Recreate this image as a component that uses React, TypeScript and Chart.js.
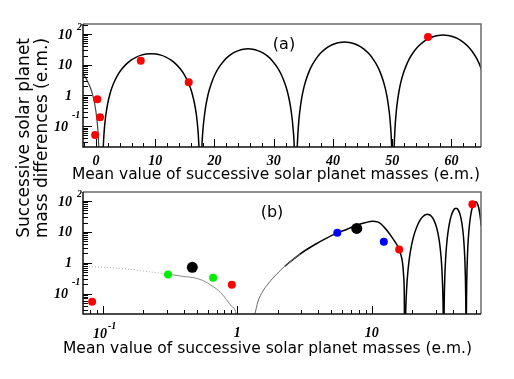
import React, { useEffect, useRef } from "react";
import { Chart, registerables } from "chart.js";
Chart.register(...registerables);

const W = 514;
const H = 379;

// ---------- panel (a): linear x ----------
const aLeftX = [-2.2, -1.8, -1.4, -1.0, -0.6, -0.2, 0.1, 0.3, 0.45, 0.55, 0.6];
const aLeftY = [5.3, 3.9, 2.8, 1.9, 1.1, 0.5, 0.2, 0.08, 0.025, 0.006, 0.001];

const aCurveX = [
  1.0, 1.166, 1.332, 1.498, 1.664, 1.996, 2.328, 2.66, 3.158, 3.656, 4.32, 5.15, 5.98, 6.81, 7.64, 8.47, 9.3,
  10.13, 10.96, 11.79, 12.62, 13.45, 14.28, 14.94, 15.44, 15.94, 16.27, 16.6, 16.94, 17.1, 17.27, 17.43, 17.6,
  17.76, 17.92, 18.08, 18.25, 18.57, 18.89, 19.22, 19.7, 20.18, 20.83, 21.64, 22.45, 23.25, 24.06, 24.87, 25.68,
  26.48, 27.29, 28.1, 28.91, 29.71, 30.52, 31.17, 31.65, 32.14, 32.46, 32.78, 33.1, 33.26, 33.43, 33.59, 33.75,
  33.91, 34.08, 34.24, 34.41, 34.73, 35.06, 35.39, 35.88, 36.37, 37.03, 37.85, 38.67, 39.49, 40.31, 41.13, 41.95,
  42.77, 43.59, 44.41, 45.23, 46.05, 46.87, 47.53, 48.02, 48.51, 48.84, 49.17, 49.49, 49.66, 49.82, 49.99, 50.15,
  50.32, 50.49, 50.66, 50.83, 51.16, 51.5, 51.84, 52.35, 52.85, 53.53, 54.38, 55.22, 56.07, 56.91, 57.76, 58.6,
  59.45, 60.29, 61.14, 61.98, 62.83, 63.67, 64.35, 64.85, 65.36,
];
const aCurveY = [
  0.0005, 0.0113, 0.052, 0.127, 0.24, 0.58, 1.08, 1.74, 3.01, 4.62, 7.13, 10.7, 14.4, 17.8, 20.6, 22.4, 23,
  22.4, 20.6, 17.8, 14.4, 10.7, 7.13, 4.62, 3.01, 1.74, 1.08, 0.58, 0.24, 0.127, 0.052, 0.0113, 0.0005,
  0.0057, 0.033, 0.089, 0.185, 0.5, 1.02, 1.75, 3.27, 5.31, 8.7, 13.9, 19.4, 24.8, 29.0, 32.0, 33,
  32.0, 29.0, 24.8, 19.4, 13.9, 8.7, 5.31, 3.27, 1.75, 1.02, 0.5, 0.185, 0.089, 0.033, 0.0057, 0.0005,
  0.0096, 0.055, 0.149, 0.308, 0.83, 1.71, 2.92, 5.45, 8.86, 14.5, 23.1, 32.4, 41.3, 48.4, 53.3, 55,
  53.3, 48.4, 41.3, 32.4, 23.1, 14.5, 8.86, 5.45, 2.92, 1.71, 0.83, 0.308, 0.149, 0.055, 0.0096, 0.0005,
  0.0162, 0.093, 0.251, 0.52, 1.4, 2.88, 4.93, 9.2, 15.0, 24.6, 39.1, 54.8, 69.8, 81.8, 90.1, 93,
  90.1, 81.8, 69.8, 54.8, 39.1, 24.6, 15.0, 9.2, 4.93,
];

const aRedX = [-0.15, 0.22, 0.68, 7.55, 15.65, 56.05];
const aRedY = [0.052, 0.75, 0.195, 13.6, 2.7, 80];

// ---------- panel (b): logarithmic x ----------
const bDotX = [0.071, 0.1, 0.15, 0.2, 0.3];
const bDotY = [0.75, 0.72, 0.63, 0.54, 0.43];

const bGreyX = [0.3, 0.4, 0.47, 0.55, 0.66, 0.75, 0.83, 0.9, 0.98, 1.02];
const bGreyY = [0.43, 0.36, 0.33, 0.27, 0.17, 0.11, 0.064, 0.04, 0.022, 0.004];

// faint start of the rising branch
const bRiseX = [1.31, 1.35, 1.42, 1.55, 1.69, 1.84, 2.26, 2.92];
const bRiseY = [0.014, 0.022, 0.054, 0.122, 0.206, 0.32, 0.78, 1.91];

const bCurveX = [
  2.26, 2.92, 3.78, 4.65, 5.54, 6.55, 7.73, 8.9, 10.2, 11.0, 11.5, 12.3,
  13.2, 14.2, 15.2, 16.0, 16.5, 16.96, 17.25, 17.46, 17.6,
  17.77, 17.93, 18.1, 18.27, 18.6, 18.94, 19.27, 19.77, 20.27, 20.94, 21.78, 22.61, 23.45, 24.28, 25.12, 25.95,
  26.79, 27.62, 28.46, 29.29, 30.13, 30.96, 31.63, 32.13, 32.63, 32.96, 33.3, 33.63, 33.8, 33.97, 34.13, 34.3,
  34.46, 34.62, 34.78, 34.94, 35.27, 35.59, 35.91, 36.39, 36.88, 37.52, 38.33, 39.13, 39.94, 40.74, 41.55, 42.35,
  43.16, 43.96, 44.77, 45.57, 46.38, 47.18, 47.82, 48.31, 48.79, 49.11, 49.43, 49.76, 49.92, 50.08, 50.24, 50.4,
  50.58, 50.75, 50.93, 51.1, 51.46, 51.81, 52.16, 52.69, 53.22, 53.92, 54.8, 55.68, 56.56, 57.44, 58.32, 59.2,
  60.08, 60.96, 61.84, 62.72, 63.6, 64.48, 65.18,
];
const bCurveY = [
  0.78, 1.91, 3.9, 6.4, 9.3, 12.2, 16.4, 19.8, 22.1, 21, 19.1, 14.5,
  10.1, 6.5, 4.16, 2.7, 1.77, 0.98, 0.4, 0.09, 0.0005,
  0.0064, 0.037, 0.1, 0.207, 0.56, 1.15, 1.96, 3.66, 5.96, 9.8, 15.5, 21.8, 27.8, 32.6, 35.9, 37,
  35.9, 32.6, 27.8, 21.8, 15.5, 9.8, 5.96, 3.66, 1.96, 1.15, 0.56, 0.207, 0.1, 0.037, 0.0064, 0.0005,
  0.0101, 0.058, 0.157, 0.325, 0.876, 1.8, 3.07, 5.74, 9.34, 15.3, 24.4, 34.2, 43.5, 51.0, 56.2, 58,
  56.2, 51.0, 43.5, 34.2, 24.4, 15.3, 9.34, 5.74, 3.07, 1.8, 0.876, 0.325, 0.157, 0.058, 0.0101, 0.0005,
  0.0165, 0.095, 0.257, 0.53, 1.43, 2.95, 5.04, 9.4, 15.3, 25.1, 39.9, 56.0, 71.3, 83.6, 92.1, 95,
  92.1, 83.6, 71.3, 56.0, 39.9, 25.1, 15.3,
];

const bRedX = [0.083, 0.91, 16.0, 56.1];
const bRedY = [0.055, 0.195, 2.7, 78];
const bGreenX = [0.305, 0.66];
const bGreenY = [0.42, 0.33];
const bBlackX = [0.462, 7.73];
const bBlackY = [0.71, 12.9];
const bBlueX = [5.54, 12.3];
const bBlueY = [9.3, 4.8];

// ---------- tick labels / texts ----------
const yTickValues = [100, 10, 1, 0.1];
const yTickBase = ["10", "10", "1", "10"];
const yTickExp = ["2", "", "", "-1"];

const aXTickValues = [0, 10, 20, 30, 40, 50, 60];
const aXTickLabels = ["0", "10", "20", "30", "40", "50", "60"];

const bXTickValues = [0.1, 1, 10];
const bXTickBase = ["10", "1", "10"];
const bXTickExp = ["-1", "", ""];

const xTitle = "Mean value of successive solar planet masses (e.m.)";
const yTitleLines = ["Successive solar planet", "mass differences (e.m.)"];
const panelLabels = ["(a)", "(b)"];

const TICK_FONT = 'italic bold 14px "Liberation Serif", serif';
const SUP_FONT = 'italic bold 10px "Liberation Serif", serif';
const TITLE_FONT = '16px "DejaVu Sans", sans-serif';
const YTITLE_FONT = '17px "DejaVu Sans", sans-serif';
const PANEL_FONT = '16px "DejaVu Sans", sans-serif';

function pts(xs: number[], ys: number[]) {
  return xs.map((x, i) => ({ x, y: ys[i] }));
}

function logTicks(min: number, max: number) {
  const out: { v: number; major: boolean }[] = [];
  for (let d = -3; d <= 3; d++) {
    for (let m = 1; m <= 9; m++) {
      const v = m * Math.pow(10, d);
      if (v < min * 0.9999 || v > max * 1.0001) continue;
      out.push({ v, major: m === 1 });
    }
  }
  return out;
}

function drawFrameAndTicks(chart: any, xTicks: { v: number; major: boolean }[]) {
  const ctx = chart.ctx;
  const a = chart.chartArea;
  const xs = chart.scales.x;
  const ys = chart.scales.y;
  ctx.save();
  ctx.strokeStyle = "#000";
  ctx.lineWidth = 1;
  ctx.beginPath();
  for (const t of logTicks(ys.min, ys.max)) {
    const py = Math.round(ys.getPixelForValue(t.v)) + 0.5;
    ctx.moveTo(a.left, py);
    ctx.lineTo(a.left + (t.major ? 9 : 5), py);
  }
  for (const t of xTicks) {
    const px = Math.round(xs.getPixelForValue(t.v)) + 0.5;
    ctx.moveTo(px, a.bottom);
    ctx.lineTo(px, a.bottom - (t.major ? 8 : 4));
  }
  ctx.stroke();
  ctx.lineWidth = 1.5;
  ctx.strokeStyle = "#6a6a6a";
  ctx.beginPath();
  ctx.moveTo(a.left, a.top);
  ctx.lineTo(a.right, a.top);
  ctx.lineTo(a.right, a.bottom);
  ctx.stroke();
  ctx.strokeStyle = "#111";
  ctx.beginPath();
  ctx.moveTo(a.left, a.top);
  ctx.lineTo(a.left, a.bottom);
  ctx.lineTo(a.right, a.bottom);
  ctx.stroke();

  ctx.fillStyle = "#000";
  yTickValues.forEach((v, i) => {
    const py = ys.getPixelForValue(v);
    const base = yTickBase[i];
    const exp = yTickExp[i];
    ctx.font = TICK_FONT;
    ctx.textBaseline = "middle";
    ctx.textAlign = "right";
    if (exp === "-1") {
      ctx.fillText(base, a.left - 15, py + 1);
      ctx.font = SUP_FONT;
      ctx.textAlign = "left";
      ctx.fillText(exp, a.left - 11, py - 11);
    } else {
      ctx.fillText(base, a.left - 11, py + 1);
      if (exp) {
        ctx.font = SUP_FONT;
        ctx.textAlign = "left";
        ctx.fillText(exp, a.left - 6, py - 7);
      }
    }
  });
  ctx.restore();
}

const panelA = {
  id: "panelA",
  afterDraw(chart: any) {
    const ctx = chart.ctx;
    const a = chart.chartArea;
    const xs = chart.scales.x;
    const ticks: { v: number; major: boolean }[] = [];
    for (let v = -2; v <= 64; v += 2) ticks.push({ v, major: v % 10 === 0 });
    drawFrameAndTicks(chart, ticks);
    ctx.save();
    ctx.fillStyle = "#000";
    ctx.font = TICK_FONT;
    ctx.textAlign = "center";
    ctx.textBaseline = "middle";
    aXTickValues.forEach((v, i) => {
      ctx.fillText(aXTickLabels[i], xs.getPixelForValue(v), a.bottom + 14);
    });
    ctx.font = TITLE_FONT;
    ctx.textBaseline = "alphabetic";
    ctx.fillText(xTitle, 276, 179, 408);
    ctx.font = PANEL_FONT;
    ctx.textBaseline = "middle";
    ctx.fillText(panelLabels[0], 284, 45);
    ctx.font = YTITLE_FONT;
    const xsLines = [25, 43];
    yTitleLines.forEach((line, i) => {
      ctx.save();
      ctx.translate(xsLines[i], 38);
      ctx.rotate(-Math.PI / 2);
      ctx.textAlign = "right";
      ctx.textBaseline = "middle";
      ctx.fillText(line, 0, 0, 200);
      ctx.restore();
    });
    ctx.restore();
  },
};

const panelB = {
  id: "panelB",
  afterDraw(chart: any) {
    const ctx = chart.ctx;
    const a = chart.chartArea;
    const xs = chart.scales.x;
    drawFrameAndTicks(chart, logTicks(xs.min, xs.max));
    ctx.save();
    ctx.fillStyle = "#000";
    ctx.textBaseline = "middle";
    bXTickValues.forEach((v, i) => {
      const px = xs.getPixelForValue(v);
      ctx.font = TICK_FONT;
      if (bXTickExp[i]) {
        ctx.textAlign = "right";
        ctx.fillText(bXTickBase[i], px + 4, a.bottom + 20);
        ctx.font = SUP_FONT;
        ctx.textAlign = "left";
        ctx.fillText(bXTickExp[i], px + 5, a.bottom + 12);
      } else {
        ctx.textAlign = "center";
        ctx.fillText(bXTickBase[i], px, a.bottom + 19);
      }
    });
    ctx.textAlign = "center";
    ctx.font = TITLE_FONT;
    ctx.textBaseline = "alphabetic";
    ctx.fillText(xTitle, 267.5, 353, 409);
    ctx.font = PANEL_FONT;
    ctx.textBaseline = "middle";
    ctx.fillText(panelLabels[1], 272, 213);
    ctx.restore();
  },
};

function pointSet(xs: number[], ys: number[], color: string, r: number) {
  return {
    type: "scatter" as const,
    data: pts(xs, ys),
    showLine: false,
    pointRadius: r,
    pointBackgroundColor: color,
    pointBorderWidth: 0,
    pointHoverRadius: r,
  };
}

function lineSet(xs: number[], ys: number[], color: string, w: number, dash?: number[]) {
  return {
    type: "line" as const,
    data: pts(xs, ys),
    borderColor: color,
    borderWidth: w,
    borderDash: dash || [],
    pointRadius: 0,
    fill: false,
    cubicInterpolationMode: "monotone" as const,
  };
}

export default function App() {
  const refA = useRef<HTMLCanvasElement>(null);
  const refB = useRef<HTMLCanvasElement>(null);

  useEffect(() => {
    const common = {
      responsive: false,
      animation: false as const,
      events: [] as any[],
      plugins: { legend: { display: false }, tooltip: { enabled: false } },
    };
    const chartA = new Chart(refA.current as HTMLCanvasElement, {
      type: "scatter",
      data: {
        datasets: [
          pointSet(aRedX, aRedY, "#ff0000", 4),
          lineSet(aLeftX, aLeftY, "#444", 1.2),
          lineSet(aCurveX, aCurveY, "#000", 1.5),
        ] as any,
      },
      options: {
        ...common,
        layout: { padding: { left: 83, top: 24, right: W - 481, bottom: H - 147 } },
        scales: {
          x: { type: "linear", min: -2.2, max: 65, display: false },
          y: { type: "logarithmic", min: 0.021, max: 213, display: false },
        },
      } as any,
      plugins: [panelA],
    });
    const chartB = new Chart(refB.current as HTMLCanvasElement, {
      type: "scatter",
      data: {
        datasets: [
          pointSet(bBlackX, bBlackY, "#000000", 5.5),
          pointSet(bRedX, bRedY, "#ff0000", 4),
          pointSet(bGreenX, bGreenY, "#00ee00", 4),
          pointSet(bBlueX, bBlueY, "#0000ff", 4),
          lineSet(bDotX, bDotY, "#aaa", 1, [1, 2]),
          lineSet(bGreyX, bGreyY, "#888", 1),
          lineSet(bRiseX, bRiseY, "#666", 1),
          lineSet(bCurveX, bCurveY, "#000", 1.5),
        ] as any,
      },
      options: {
        ...common,
        layout: { padding: { left: 83, top: 192, right: W - 481, bottom: H - 314 } },
        scales: {
          x: { type: "logarithmic", min: 0.071, max: 65, display: false },
          y: { type: "logarithmic", min: 0.022, max: 195, display: false },
        },
      } as any,
      plugins: [panelB],
    });
    return () => {
      chartA.destroy();
      chartB.destroy();
    };
  }, []);

  const cs: React.CSSProperties = { position: "absolute", left: 0, top: 0, width: W, height: H };
  return (
    <div style={{ position: "fixed", left: 0, top: 0, width: W, height: H, background: "#fff" }}>
      <canvas ref={refA} width={W} height={H} style={cs} />
      <canvas ref={refB} width={W} height={H} style={cs} />
    </div>
  );
}
